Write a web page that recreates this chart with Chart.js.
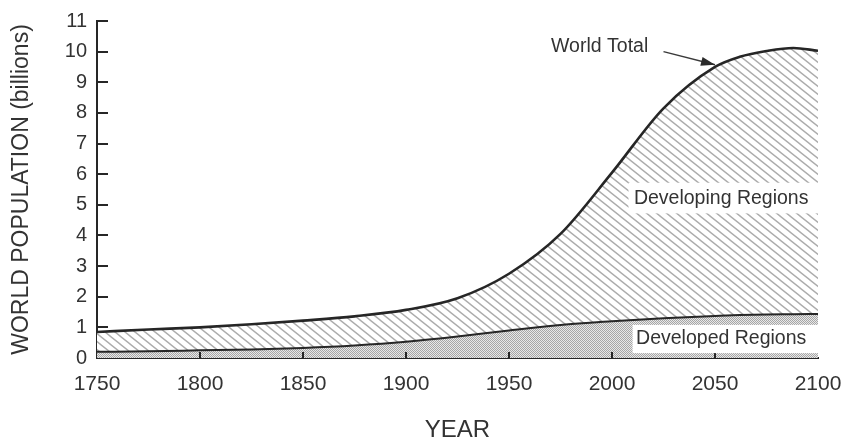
<!DOCTYPE html>
<html>
<head>
<meta charset="utf-8">
<script src="https://cdn.jsdelivr.net/npm/chart.js@4.4.1/dist/chart.umd.min.js"></script>
<style>
html,body{margin:0;padding:0;background:#fff;}
canvas{display:block;}
</style>
</head>
<body>
<canvas id="c" width="844" height="442"></canvas>
<script>
// ---- data ----
const years       = [1750, 1775, 1800, 1825, 1850, 1875, 1900, 1925, 1950, 1975, 2000, 2025, 2050, 2062, 2075, 2088, 2100];
const worldTotal  = [0.85, 0.93, 1.00, 1.10, 1.22, 1.36, 1.57, 1.95, 2.75, 4.05, 6.05, 8.15, 9.50, 9.83, 10.02, 10.12, 10.03];
const developed   = [0.20, 0.22, 0.25, 0.28, 0.33, 0.41, 0.53, 0.70, 0.90, 1.08, 1.20, 1.30, 1.37, 1.40, 1.42, 1.43, 1.44];
const xTickValues = [1750, 1800, 1850, 1900, 1950, 2000, 2050, 2100];
const yTickValues = [0, 1, 2, 3, 4, 5, 6, 7, 8, 9, 10, 11];
const xAxisTitle  = 'YEAR';
const yAxisTitle  = 'WORLD POPULATION (billions)';
const labelWorld      = 'World Total';
const labelDeveloping = 'Developing Regions';
const labelDeveloped  = 'Developed Regions';

const FONT = "'Liberation Sans', Arial, Helvetica, sans-serif";
const INK = '#262626';
const TEXT = '#333333';

function hatchPattern() {
  const w = 10, h = 8;
  const c = document.createElement('canvas');
  c.width = w; c.height = h;
  const g = c.getContext('2d');
  g.fillStyle = '#ffffff';
  g.fillRect(0, 0, w, h);
  g.strokeStyle = '#acacac';
  g.lineWidth = 1.4;
  g.beginPath();
  g.moveTo(-w, -h); g.lineTo(2 * w, 2 * h);
  g.moveTo(-w, 0);  g.lineTo(w, 2 * h);
  g.moveTo(0, -h);  g.lineTo(2 * w, h);
  g.stroke();
  return g.createPattern(c, 'repeat');
}

function stipplePattern() {
  const c = document.createElement('canvas');
  c.width = 4; c.height = 4;
  const g = c.getContext('2d');
  g.fillStyle = '#e8e8e8';
  g.fillRect(0, 0, 4, 4);
  g.fillStyle = '#a6a6a6';
  for (let yy = 0; yy < 4; yy++) {
    for (let xx = 0; xx < 4; xx++) {
      if ((xx + yy) % 2 === 0) g.fillRect(xx, yy, 1, 1);
    }
  }
  return g.createPattern(c, 'repeat');
}

const decorations = {
  id: 'decorations',
  afterDatasetsDraw(chart) {
    const { ctx, chartArea, scales: { x, y } } = chart;
    ctx.save();
    // inward tick marks
    ctx.strokeStyle = INK;
    ctx.lineWidth = 2;
    yTickValues.forEach(v => {
      if (v === 0) return;
      const py = Math.round(y.getPixelForValue(v));
      ctx.beginPath();
      ctx.moveTo(chartArea.left, py);
      ctx.lineTo(chartArea.left + 11, py);
      ctx.stroke();
    });
    xTickValues.forEach(v => {
      if (v === xTickValues[0] || v === xTickValues[xTickValues.length - 1]) return;
      const px = Math.round(x.getPixelForValue(v));
      ctx.beginPath();
      ctx.moveTo(px, chartArea.bottom);
      ctx.lineTo(px, chartArea.bottom - 6);
      ctx.stroke();
    });

    // white label boxes (data coordinates)
    ctx.fillStyle = '#ffffff';
    const box = (x0, x1, y0, y1) => {
      const l = x.getPixelForValue(x0), r = x.getPixelForValue(x1);
      const t = y.getPixelForValue(y1), b = y.getPixelForValue(y0);
      ctx.fillRect(l, t, r - l, b - t);
    };
    box(2008, 2100, 4.72, 5.72);
    box(2010, 2100, 0.16, 1.08);

    ctx.fillStyle = TEXT;
    ctx.font = `19.5px ${FONT}`;
    ctx.textAlign = 'center';
    ctx.textBaseline = 'middle';
    ctx.fillText(labelDeveloping, x.getPixelForValue(2053), y.getPixelForValue(5.2));
    ctx.fillText(labelDeveloped, x.getPixelForValue(2053), y.getPixelForValue(0.62));
    ctx.fillText(labelWorld, x.getPixelForValue(1994), y.getPixelForValue(10.17));

    // arrow from label to the World Total curve
    const ax0 = x.getPixelForValue(2025), ay0 = y.getPixelForValue(10.0);
    const ax1 = x.getPixelForValue(2050), ay1 = y.getPixelForValue(9.57);
    ctx.strokeStyle = '#3a3a3a';
    ctx.lineWidth = 1.5;
    ctx.beginPath();
    ctx.moveTo(ax0, ay0);
    ctx.lineTo(ax1, ay1);
    ctx.stroke();
    const ang = Math.atan2(ay1 - ay0, ax1 - ax0);
    const L = 14, W = 4.5;
    ctx.fillStyle = '#2a2a2a';
    ctx.beginPath();
    ctx.moveTo(ax1, ay1);
    ctx.lineTo(ax1 - L * Math.cos(ang) + W * Math.sin(ang), ay1 - L * Math.sin(ang) - W * Math.cos(ang));
    ctx.lineTo(ax1 - L * Math.cos(ang) - W * Math.sin(ang), ay1 - L * Math.sin(ang) + W * Math.cos(ang));
    ctx.closePath();
    ctx.fill();
    ctx.restore();
  }
};

new Chart(document.getElementById('c'), {
  type: 'line',
  data: {
    datasets: [
      {
        label: labelDeveloped,
        data: years.map((yr, i) => ({ x: yr, y: developed[i] })),
        borderColor: INK,
        borderWidth: 2,
        backgroundColor: stipplePattern(),
        fill: 'origin',
        pointRadius: 0,
        cubicInterpolationMode: 'monotone'
      },
      {
        label: labelWorld,
        data: years.map((yr, i) => ({ x: yr, y: worldTotal[i] })),
        borderColor: INK,
        borderWidth: 2.6,
        backgroundColor: hatchPattern(),
        fill: '-1',
        pointRadius: 0,
        cubicInterpolationMode: 'monotone'
      }
    ]
  },
  options: {
    responsive: false,
    animation: false,
    devicePixelRatio: 1,
    layout: { padding: { left: 0, right: 26, top: 21, bottom: 0 } },
    plugins: { legend: { display: false }, tooltip: { enabled: false } },
    scales: {
      x: {
        type: 'linear',
        min: 1750,
        max: 2100,
        afterBuildTicks: s => { s.ticks = xTickValues.map(v => ({ value: v })); },
        ticks: {
          callback: v => String(v),
          font: { family: FONT, size: 21 },
          color: TEXT,
          padding: 14,
          maxRotation: 0,
          autoSkip: false
        },
        grid: { display: false, drawTicks: false },
        border: { display: true, color: INK, width: 2 },
        title: {
          display: true,
          text: xAxisTitle,
          font: { family: FONT, size: 24, lineHeight: 1 },
          color: TEXT,
          padding: { top: 0, bottom: 0 }
        },
        afterFit: s => { s.height = 84; s.paddingLeft = 0; s.paddingRight = 0; }
      },
      y: {
        type: 'linear',
        min: 0,
        max: 11,
        afterBuildTicks: s => { s.ticks = yTickValues.map(v => ({ value: v })); },
        ticks: {
          font: { family: FONT, size: 20 },
          color: TEXT,
          padding: 10
        },
        grid: { display: false, drawTicks: false },
        border: { display: true, color: INK, width: 2 },
        title: {
          display: true,
          text: yAxisTitle,
          font: { family: FONT, size: 23, lineHeight: 1 },
          color: TEXT,
          padding: { top: 10, bottom: 0 }
        },
        afterFit: s => { s.width = 97; s.paddingTop = 0; s.paddingBottom = 0; }
      }
    }
  },
  plugins: [decorations]
});
</script>
</body>
</html>
